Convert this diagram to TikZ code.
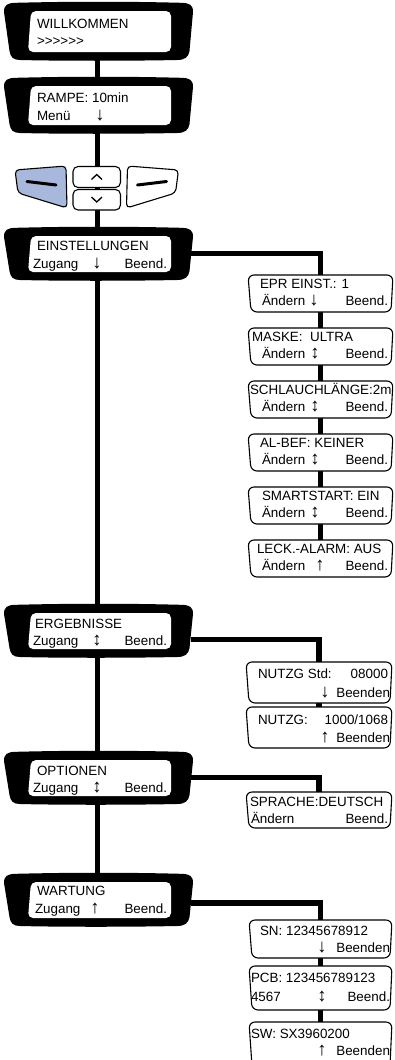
\documentclass[tikz,border=0pt]{standalone}
\usepackage{fontspec}
\setmainfont{Liberation Sans}
\usetikzlibrary{fit}
\definecolor{btnblue}{RGB}{168,184,220}
\newcommand\MainBezel[2]{%
  \fill[black] (4,#1+10) .. controls (4,#1+3) and (7,#1+1) .. (16,#1+0.8) .. controls (70,#1-0.6) and (128,#1-0.6) .. (181,#1+0.8) .. controls (190,#1+1) and (193,#1+3) .. (193,#1+10) -- (189.5,#1+#2-9) .. controls (188.5,#1+#2-3) and (185,#1+#2) .. (177,#1+#2) .. controls (130,#1+#2+1) and (60,#1+#2+1) .. (20,#1+#2) .. controls (13,#1+#2) and (10.5,#1+#2-3) .. (9.5,#1+#2-9) -- cycle;
  \fill[white, rounded corners=5pt] (31,#1+9) -- (171,#1+9) -- (171,#1+#2-8) -- (28,#1+#2-8) -- cycle;
}
\newcommand\RightFrame[1]{%
  \draw[line width=1.1pt, fill=white, rounded corners=6pt] (#1.north west) -- (#1.north east) -- ([xshift=-2pt]#1.south east) -- ([xshift=3pt]#1.south west) -- cycle;}
\begin{document}
\begin{tikzpicture}[x=1pt,y=-1pt,
  conn/.style={line width=5.5pt, black},
  box/.style={inner sep=0pt, outer sep=0pt, draw=none},
  txt/.style={inner sep=0pt, outer sep=0pt, font=\fontsize{13.4}{16}\selectfont},
  lt/.style={txt, anchor=base west},
  rt/.style={txt, anchor=base east},
  ct/.style={inner sep=0pt, outer sep=0pt, anchor=center, yshift=4.8pt, font=\fontsize{18.5}{20}\selectfont},
  btn/.style={line width=1.1pt, draw=black},
]
\useasboundingbox (0,0) rectangle (394,1060);
\clip (0,0) rectangle (394,1060);
% ---------- box nodes ----------
\node[box, fit={(4,2) (191,60)}] (willk) {};
\node[box, fit={(4,77) (191,133)}] (rampe) {};
\node[box, fit={(4,227) (191,280)}] (einst) {};
\node[box, fit={(4,604) (191,657)}] (ergeb) {};
\node[box, fit={(4,751) (191,804)}] (optio) {};
\node[box, fit={(4,873) (191,926)}] (wart) {};
\node[box, fit={(248,275) (393,312)}] (epr) {};
\node[box, fit={(248,328) (393,365)}] (mask) {};
\node[box, fit={(248,381) (393,418)}] (sch) {};
\node[box, fit={(248,434) (393,471)}] (albef) {};
\node[box, fit={(248,487) (393,524)}] (smart) {};
\node[box, fit={(248,540) (393,577)}] (leck) {};
\node[box, fit={(246,662) (392,703)}] (nutz1) {};
\node[box, fit={(246,707) (392,748)}] (nutz2) {};
\node[box, fit={(246,792) (392,828)}] (spr) {};
\node[box, fit={(249,920) (392,958)}] (sn) {};
\node[box, fit={(249,966) (392,1010)}] (pcb) {};
\node[box, fit={(249,1022) (392,1066)}] (sw) {};
% ---------- connectors ----------
\draw[conn] (willk.south) -- (rampe.north);
\draw[conn] (rampe.south) -- (einst.north);
\draw[conn] (einst.south) -- (ergeb.north);
\draw[conn] (ergeb.south) -- (optio.north);
\draw[conn] (optio.south) -- (wart.north);
\draw[conn] (einst.east) -| (epr.north);
\draw[conn] ([yshift=-9pt]ergeb.east) -| (nutz1.north);
\draw[conn] (optio.east) -| (spr.north);
\draw[conn] ([yshift=-3.5pt]wart.east) -| (sn.north);
\draw[conn] (epr.south) -- (mask.north);
\draw[conn] (mask.south) -- (sch.north);
\draw[conn] (sch.south) -- (albef.north);
\draw[conn] (albef.south) -- (smart.north);
\draw[conn] (smart.south) -- (leck.north);
\draw[conn] (nutz1.south) -- (nutz2.north);
\draw[conn] (sn.south) -- (pcb.north);
\draw[conn] (pcb.south) -- (sw.north);
% ---------- main bezels ----------
\MainBezel{2}{58}
\MainBezel{77}{56}
\MainBezel{227}{53}
\MainBezel{604}{53}
\MainBezel{751}{53}
\MainBezel{873}{53}
% ---------- right frames ----------
\RightFrame{epr}\RightFrame{mask}\RightFrame{sch}\RightFrame{albef}\RightFrame{smart}\RightFrame{leck}
\RightFrame{nutz1}\RightFrame{nutz2}\RightFrame{spr}
\RightFrame{sn}\RightFrame{pcb}\RightFrame{sw}
% ---------- buttons ----------
\draw[btn, fill=btnblue, rounded corners=4pt] (15,170) -- (66,166) -- (67,208) -- (18,193) -- cycle;
\draw[line width=3pt, line cap=round] (27,181.5) -- (56,185);
\draw[btn, fill=white, rounded corners=4pt] (178.5,170) -- (127.5,166) -- (126.5,208) -- (175.5,193) -- cycle;
\draw[line width=3pt, line cap=round] (166.5,181.5) -- (137.5,185);
\draw[btn, fill=white, rounded corners=5pt] (73,166.5) rectangle (120.5,187.5);
\draw[btn, fill=white, rounded corners=5pt] (73,189.5) rectangle (120.5,210);
\draw[line width=1.3pt] (91.5,179.5) -- (96.75,174.5) -- (102,179.5);
\draw[line width=1.3pt] (91.5,197) -- (96.75,202) -- (102,197);
% ---------- main texts ----------
\node[lt] (tw1) at (37,28) {WILLKOMMEN};
\node[lt] (tw2) at (37,45) {>\kern0pt>\kern0pt>\kern0pt>\kern0pt>\kern0pt>};
\node[lt] (tr1) at (37,102) {RAMPE: 10min};
\node[lt] (tr2) at (37,120) {Menü};
\node[ct] (tr3) at (100,120) {↓};
\node[lt] (te1) at (37,250) {EINSTELLUNGEN};
\node[lt] (te2) at (33,268) {Zugang};
\node[ct] (te3) at (97,268) {↓};
\node[rt] (te4) at (167,268) {Beend.};
\node[lt] (tg1) at (35,628) {ERGEBNISSE};
\node[lt] (tg2) at (33,645) {Zugang};
\node[ct] (tg3) at (97,645) {↕};
\node[rt] (tg4) at (167,645) {Beend.};
\node[lt] (to1) at (37,775) {OPTIONEN};
\node[lt] (to2) at (33,792) {Zugang};
\node[ct] (to3) at (97,792) {↕};
\node[rt] (to4) at (167,792) {Beend.};
\node[lt] (tv1) at (37,895) {WARTUNG};
\node[lt] (tv2) at (35,913) {Zugang};
\node[ct] (tv3) at (95,913) {↑};
\node[rt] (tv4) at (167,913) {Beend.};
% ---------- right texts ----------
\node[lt] (a1) at (260,288) {EPR EINST.: 1};
\node[lt] (a2) at (262,305) {Ändern};
\node[ct] (a3) at (314,305) {↓};
\node[rt] (a4) at (388,305) {Beend.};
\node[lt] (b1) at (252,341) {MASKE:\ \ ULTRA};
\node[lt] (b2) at (262,358) {Ändern};
\node[ct] (b3) at (315,358) {↕};
\node[rt] (b4) at (388,358) {Beend.};
\node[lt] (c1) at (250,394) {SCHLAUCHLÄNGE:2m};
\node[lt] (c2) at (262,411) {Ändern};
\node[ct] (c3) at (315,411) {↕};
\node[rt] (c4) at (388,411) {Beend.};
\node[lt] (d1) at (260,447) {AL-BEF: KEINER};
\node[lt] (d2) at (262,464) {Ändern};
\node[ct] (d3) at (315,464) {↕};
\node[rt] (d4) at (388,464) {Beend.};
\node[lt] (e1) at (262,500) {SMARTSTART: EIN};
\node[lt] (e2) at (262,517) {Ändern};
\node[ct] (e3) at (315,517) {↕};
\node[rt] (e4) at (388,517) {Beend.};
\node[lt] (f1) at (257,553) {LECK.-ALARM: AUS};
\node[lt] (f2) at (262,570) {Ändern};
\node[ct] (f3) at (320,570) {↑};
\node[rt] (f4) at (388,570) {Beend.};
\node[lt] (g1) at (258,678) {NUTZG Std:};
\node[rt] (g2) at (388,678) {08000};
\node[ct] (g3) at (325,697) {↓};
\node[rt] (g4) at (390,697) {Beenden};
\node[lt] (h1) at (258,724) {NUTZG:};
\node[rt] (h2) at (388,724) {1000/1068};
\node[ct] (h3) at (325,742) {↑};
\node[rt] (h4) at (390,742) {Beenden};
\node[lt] (i1) at (250,806) {SPRACHE:DEUTSCH};
\node[lt] (i2) at (251,823) {Ändern};
\node[rt] (i4) at (388,823) {Beend.};
\node[lt] (j1) at (260,935) {SN: 12345678912};
\node[ct] (j3) at (322,952) {↓};
\node[rt] (j4) at (390,952) {Beenden};
\node[lt] (k1) at (251,982) {PCB: 123456789123};
\node[lt] (k2) at (251,1001) {4567};
\node[ct] (k3) at (322,1001) {↕};
\node[rt] (k4) at (390,1001) {Beend.};
\node[lt] (l1) at (251,1038) {SW: SX3960200};
\node[ct] (l3) at (322,1055) {↑};
\node[rt] (l4) at (390,1055) {Beenden};
\end{tikzpicture}
\end{document}
